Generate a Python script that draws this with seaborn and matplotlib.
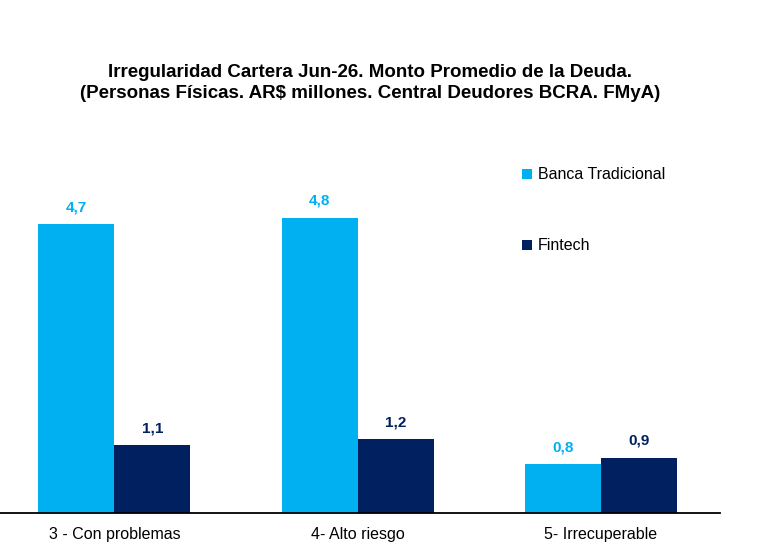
import pandas as pd
import matplotlib.pyplot as plt
import seaborn as sns

# datos
categorias = ['3 - Con problemas', '4- Alto riesgo', '5- Irrecuperable']
banca = [4.7, 4.8, 0.8]
fintech = [1.1, 1.2, 0.9]
series = ['Banca Tradicional', 'Fintech']
colores = ['#00B0F0', '#002060']

df = pd.DataFrame({
    'Categoria': categorias * 2,
    'Serie': [series[0]] * 3 + [series[1]] * 3,
    'Valor': banca + fintech,
})

sns.set_style('white')
plt.rcParams['font.family'] = ['Liberation Sans', 'DejaVu Sans']
plt.rcParams['text.color'] = 'black'
plt.rcParams['xtick.color'] = 'black'

fig = plt.figure(figsize=(7.8, 5.56), dpi=100)
ax = fig.add_axes([0.0, 0.0773, 0.923, 0.664])

sns.barplot(data=df, x='Categoria', y='Valor', hue='Serie', order=categorias,
            hue_order=series, palette=colores, width=0.625, saturation=1,
            linewidth=0, ax=ax, legend=True)

# etiquetas de valor
for cont, col in zip(ax.containers, colores):
    labels = [f'{v:.1f}'.replace('.', ',') for v in cont.datavalues]
    ax.bar_label(cont, labels=labels, padding=7, color=col,
                 fontsize=11, fontweight='bold')

ax.set_ylim(0, 6)
ax.set_xlim(-0.47, 2.49)
ax.set_xlabel('')
ax.set_ylabel('')
ax.set_yticks([])
ax.tick_params(axis='x', length=0, pad=10, labelsize=11.5, labelcolor='black')
for s in ['top', 'right', 'left']:
    ax.spines[s].set_visible(False)
ax.spines['bottom'].set_color('black')
ax.spines['bottom'].set_linewidth(1.3)

leg = ax.legend(loc='upper left', bbox_to_anchor=(0.705, 0.975), frameon=False,
                handlelength=0.6, handleheight=0.6, handletextpad=0.4,
                labelspacing=3.5, prop={'size': 11.5})
for t in leg.get_texts():
    t.set_color('black')

fig.text(0.475, 0.85, 'Irregularidad Cartera Jun-26. Monto Promedio de la Deuda.\n'
         '(Personas Físicas. AR$ millones. Central Deudores BCRA. FMyA)',
         ha='center', va='center', fontsize=13.5, fontweight='bold',
         linespacing=1.3, color='black')

fig.savefig('out.png', dpi=100)
